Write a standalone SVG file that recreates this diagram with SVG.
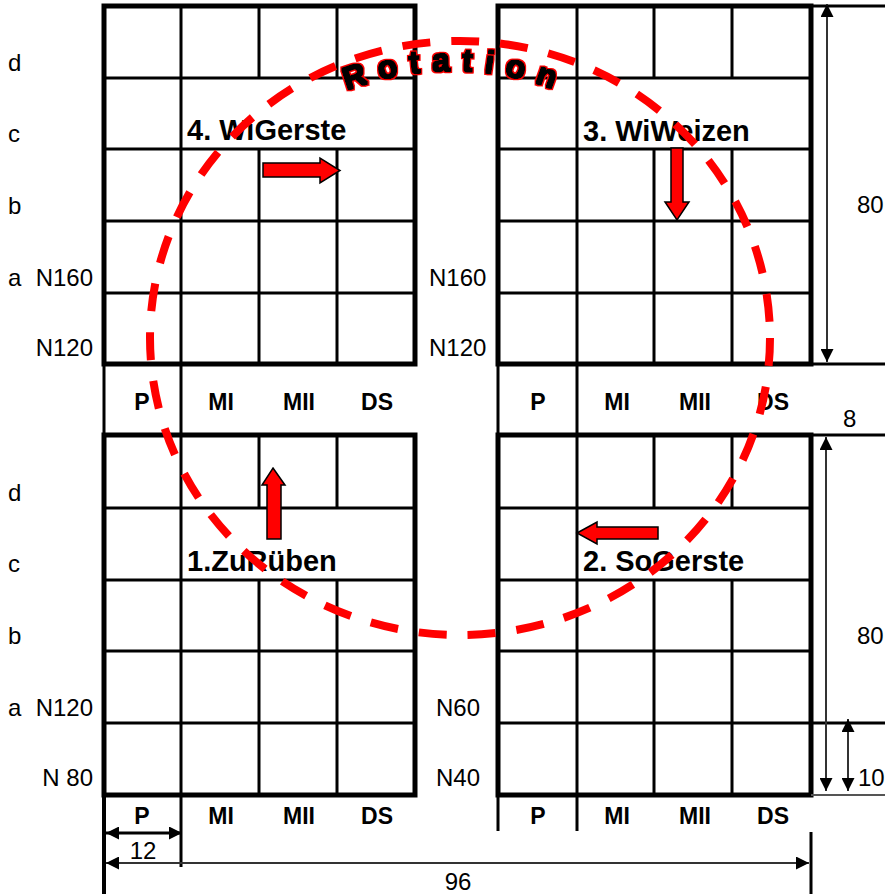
<svg xmlns="http://www.w3.org/2000/svg" width="885" height="894" viewBox="0 0 885 894">
<style>
.bd{fill:none;stroke:#000;stroke-width:5}
.gl{stroke:#000;stroke-width:3;fill:none}
.ext{stroke:#000;stroke-width:3}
.dim{stroke:#333;stroke-width:2;fill:none}
.t{font-family:"Liberation Sans",Arial,sans-serif;font-size:24px;fill:#000}
.hb{font-family:"Liberation Sans",Arial,sans-serif;font-size:23px;font-weight:bold;fill:#000;text-anchor:middle}
.crop{font-family:"Liberation Sans",Arial,sans-serif;font-size:29px;font-weight:bold;fill:#000}
.arr{fill:#ff0000;stroke:#000;stroke-width:1.5;stroke-linejoin:miter}
.rot{fill:none;stroke:#ff0000;stroke-width:8;stroke-dasharray:28 21}
.rt{font-family:"Liberation Sans",Arial,sans-serif;font-size:32px;font-weight:bold;fill:#000;letter-spacing:11.5px;filter:url(#wa)}
</style>
<defs>
<marker id="ah" viewBox="0 0 14 14" refX="14" refY="7" markerWidth="14" markerHeight="13" markerUnits="userSpaceOnUse" orient="auto-start-reverse">
<path d="M0,0 L14,7 L0,14 z" fill="#000"/>
</marker>
<filter id="wa" x="-10%" y="-40%" width="120%" height="180%">
<feMorphology in="SourceAlpha" operator="dilate" radius="2.4" result="o"/>
<feFlood flood-color="#ff0000"/>
<feComposite in2="o" operator="in" result="red"/>
<feMorphology in="SourceAlpha" operator="dilate" radius="0.8" result="b"/>
<feMerge><feMergeNode in="red"/><feMergeNode in="b"/></feMerge>
</filter>
<path id="arc" d="M329.4,98.2 A290,290 0 0 1 574.6,98.2"/>
</defs>

<g id="block-4-wigerste">
<rect class="bd" x="104" y="6" width="311" height="358"/>
<path class="gl" d="M104,78H415M104,149H415M104,221H415M104,293H415M181,6V364M259,6V78M337,6V78M259,149V364M337,149V364"/>
<text class="crop" x="187" y="140">4. WiGerste</text>
</g>

<g id="block-3-wiweizen">
<rect class="bd" x="498" y="6" width="313" height="358"/>
<path class="gl" d="M498,78H811M498,149H811M498,221H811M498,293H811M577,6V364M654,6V78M732,6V78M654,149V364M732,149V364"/>
<text class="crop" x="583" y="141">3. WiWeizen</text>
</g>

<g id="block-1-zurueben">
<rect class="bd" x="104" y="435" width="311" height="360"/>
<path class="gl" d="M104,508H415M104,580H415M104,651H415M104,723H415M181,435V795M259,435V508M337,435V508M259,580V795M337,580V795"/>
<text class="crop" x="187" y="571">1.ZuRüben</text>
</g>

<g id="block-2-sogerste">
<rect class="bd" x="498" y="435" width="313" height="360"/>
<path class="gl" d="M498,508H811M498,580H811M498,651H811M498,723H811M577,435V795M654,435V508M732,435V508M654,580V795M732,580V795"/>
<text class="crop" x="583" y="571">2. SoGerste</text>
</g>

<g id="bands">
<path class="gl" d="M104,364V435M181,364V435M498,364V435M577,364V435"/>
<path class="gl" style="stroke-width:4" d="M104,795V894"/>
<path class="gl" d="M181,795V867M498,795V831M577,795V831M811,832V894"/>
<path class="ext" d="M811,6H885M811,364H885M811,435H885M811,723H885"/>
<path d="M811,795H885" stroke="#555" stroke-width="2"/>
<text class="hb" x="142" y="410">P</text>
<text class="hb" x="221" y="410">MI</text>
<text class="hb" x="299" y="410">MII</text>
<text class="hb" x="377" y="410">DS</text>
<text class="hb" x="538" y="410">P</text>
<text class="hb" x="617" y="410">MI</text>
<text class="hb" x="695" y="410">MII</text>
<text class="hb" x="773" y="410">DS</text>
<text class="hb" x="142" y="824">P</text>
<text class="hb" x="221" y="824">MI</text>
<text class="hb" x="299" y="824">MII</text>
<text class="hb" x="377" y="824">DS</text>
<text class="hb" x="538" y="824">P</text>
<text class="hb" x="617" y="824">MI</text>
<text class="hb" x="695" y="824">MII</text>
<text class="hb" x="773" y="824">DS</text>
</g>

<g id="row-labels">
<text class="t" x="8" y="71">d</text>
<text class="t" x="8" y="142">c</text>
<text class="t" x="8" y="214">b</text>
<text class="t" x="8" y="286">a</text>
<text class="t" x="93" y="286" text-anchor="end">N160</text>
<text class="t" x="93" y="356" text-anchor="end">N120</text>
<text class="t" x="429" y="286">N160</text>
<text class="t" x="429" y="356">N120</text>
<text class="t" x="8" y="501">d</text>
<text class="t" x="8" y="572">c</text>
<text class="t" x="8" y="644">b</text>
<text class="t" x="8" y="716">a</text>
<text class="t" x="93" y="716" text-anchor="end">N120</text>
<text class="t" x="93" y="786" text-anchor="end">N 80</text>
<text class="t" x="436" y="716">N60</text>
<text class="t" x="436" y="786">N40</text>
</g>

<g id="connectors">
<line class="dim" x1="827" y1="4" x2="827" y2="362" marker-start="url(#ah)" marker-end="url(#ah)"/>
<line class="dim" x1="826" y1="437" x2="826" y2="791" marker-start="url(#ah)" marker-end="url(#ah)"/>
<line class="dim" x1="848" y1="719" x2="848" y2="791" marker-start="url(#ah)" marker-end="url(#ah)"/>
<line class="dim" style="stroke:#000;stroke-width:3" x1="106" y1="833" x2="182" y2="833" marker-start="url(#ah)" marker-end="url(#ah)"/>
<line class="dim" x1="106" y1="863" x2="809" y2="863" marker-start="url(#ah)" marker-end="url(#ah)"/>
<polygon class="arr" points="263,163 320,163 320,158 340,170.5 320,183 320,177 263,177"/>
<polygon class="arr" points="671,148 683,148 683,202 689,202 677,220 665,202 671,202"/>
<polygon class="arr" points="273,468 285,485 281,485 281,539 267,539 267,485 262,485"/>
<polygon class="arr" points="577,533 597,522 597,527 658,527 658,539 597,539 597,544"/>
</g>

<g id="dim-labels">
<text class="t" x="857" y="213">80</text>
<text class="t" x="843" y="427">8</text>
<text class="t" x="857" y="644">80</text>
<text class="t" x="858" y="786">10</text>
<text class="t" x="143" y="859" text-anchor="middle">12</text>
<text class="t" x="458" y="890" text-anchor="middle">96</text>
</g>

<g id="rotation">
<ellipse class="rot" cx="460" cy="338" rx="310" ry="297"/>
<text class="rt"><textPath href="#arc" startOffset="19">Rotation</textPath></text>
</g>
</svg>
